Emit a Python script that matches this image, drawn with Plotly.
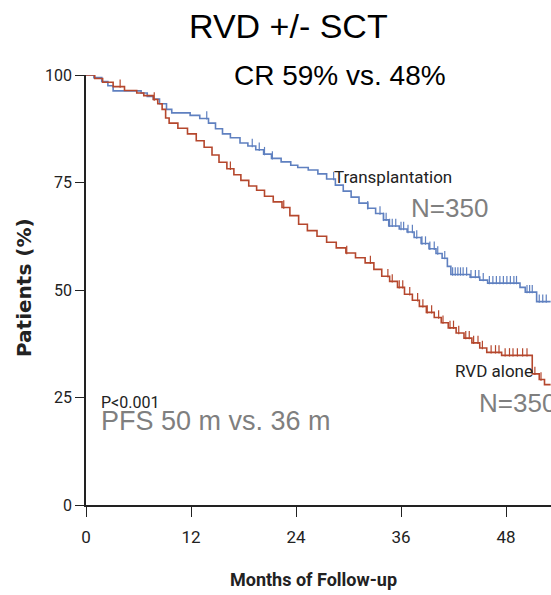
import numpy as np
import plotly.graph_objects as go

# ---------------- data ----------------
tx_months = [0, 0.9, 1.8, 2.5, 3.1, 6.3, 7.0, 7.7, 8.4, 9.2, 9.8, 11.9, 13.0, 14.0, 14.8,
             15.6, 16.5, 17.6, 18.5, 19.4, 20.3, 21.2, 22.3, 23.4, 24.2, 25.4, 26.5, 27.5,
             28.5, 29.4, 30.3, 31.2, 32.2, 33.1, 34.0, 34.6, 35.8, 36.7, 37.5, 38.3, 39.2,
             40.0, 40.7, 41.3, 41.7, 43.9, 45.0, 45.9, 49.6, 50.2, 51.5, 53.1]
tx_surv = [100, 99.4, 98.5, 97.5, 96.3, 95.8, 95.0, 94.4, 93.3, 92.0, 91.2, 90.6, 89.9, 88.8,
           87.5, 86.3, 85.4, 84.2, 83.5, 82.6, 81.6, 80.6, 79.8, 79.0, 78.5, 77.9, 77.0, 75.8,
           74.4, 73.0, 71.6, 70.2, 69.0, 67.8, 66.3, 64.9, 64.2, 63.5, 62.2, 60.8, 59.6, 58.5,
           57.4, 55.5, 53.6, 53.0, 52.3, 51.6, 50.6, 49.5, 47.3, 47.3]
tx_censor = [0.3, 0.5, 0.7, 1.0, 1.3, 1.6, 13.8, 19.0, 19.8, 20.4, 21.3, 28.3, 32.2, 33.6, 34.0,
             34.3, 34.7, 35.0, 35.4, 36.0, 36.3, 36.8, 37.3, 37.8, 38.4, 38.8, 39.3, 39.8, 40.2,
             41.0, 41.9, 42.2, 42.5, 42.8, 43.1, 43.5, 44.0, 44.5, 44.9, 45.4, 46.1, 46.5, 46.9,
             47.3, 47.7, 48.1, 48.5, 48.9, 49.2, 50.4, 50.7, 51.0, 51.8, 52.2, 52.6]

rvd_months = [0, 1.0, 1.9, 3.1, 4.4, 5.8, 6.6, 7.7, 8.2, 8.7, 9.1, 9.5, 10.5, 11.6, 12.6, 13.5,
              14.4, 15.2, 16.1, 16.9, 17.7, 18.6, 19.5, 20.4, 21.4, 22.4, 23.3, 24.3, 25.3, 26.4,
              27.5, 28.6, 29.7, 30.8, 31.9, 32.9, 33.8, 34.7, 35.6, 36.4, 37.3, 38.1, 38.9, 39.8,
              40.6, 41.4, 42.3, 43.2, 44.1, 45.0, 45.8, 47.5, 51.0, 51.8, 52.4, 53.1]
rvd_surv = [100, 99.2, 98.3, 97.3, 96.4, 95.8, 95.2, 94.3, 93.3, 92.0, 90.0, 88.8, 87.6, 86.3,
            84.7, 83.2, 81.4, 79.7, 78.2, 76.8, 75.5, 74.2, 73.2, 71.8, 70.5, 69.2, 67.3, 65.3,
            63.8, 62.5, 61.1, 59.8, 58.6, 57.5, 56.3, 54.8, 53.2, 52.0, 50.6, 49.0, 47.6, 46.2,
            44.8, 43.6, 42.4, 41.2, 40.0, 38.8, 37.7, 36.5, 35.5, 34.8, 30.5, 29.2, 28.0, 28.0]
rvd_censor = [3.9, 7.8, 16.5, 22.6, 29.8, 32.5, 34.5, 35.0, 35.8, 36.2, 37.0, 37.9, 38.5, 39.0,
              39.5, 40.3, 40.8, 41.6, 42.0, 42.6, 43.4, 43.8, 44.3, 44.8, 45.3, 46.3, 46.8, 47.2,
              47.9, 48.4, 48.8, 49.3, 49.9, 50.4, 51.3, 52.0]

x_ticks = [0, 12, 24, 36, 48]
y_ticks = [0, 25, 50, 75, 100]

# ---------------- styling ----------------
W, H = 551, 595
ML, MR, MT, MB = 86, 0, 75, 90
PW, PH = W - ML - MR, H - MT - MB
BLUE = "#5f80c0"
RED = "#b5472d"
GRAY = "#7f7f7f"
NARROW = "Roboto, sans-serif"
ARIAL = "Liberation Sans, Arial, sans-serif"
CENSOR_LIFT = 0.7  # lift so each censor tick rises from the curve


def step_lookup(times, months, surv):
    idx = np.searchsorted(np.array(months), np.array(times), side="right") - 1
    return [surv[i] + CENSOR_LIFT for i in idx]


def px(xp, yp):
    return (xp - ML) / PW, 1 - (yp - MT) / PH


fig = go.Figure()
for months, surv, cens, col, name in [
    (tx_months, tx_surv, tx_censor, BLUE, "Transplantation"),
    (rvd_months, rvd_surv, rvd_censor, RED, "RVD alone"),
]:
    fig.add_trace(go.Scatter(x=months, y=surv, mode="lines", line=dict(color=col, width=1.6, shape="hv"),
                             name=name, showlegend=False, cliponaxis=False))
    fig.add_trace(go.Scatter(x=cens, y=step_lookup(cens, months, surv), mode="markers",
                             marker=dict(symbol="line-ns", size=6, line=dict(color=col, width=1.2)),
                             showlegend=False, cliponaxis=False))

annotations = []


def add_text(text, xp, yp, size, color="black", family=ARIAL, xanchor="left", angle=0):
    x, y = px(xp, yp)
    annotations.append(dict(text=text, x=x, y=y, xref="paper", yref="paper", showarrow=False,
                            xanchor=xanchor, yanchor="middle", textangle=angle,
                            font=dict(size=size, color=color, family=family)))


add_text("RVD +/- SCT", 288, 26, 34, xanchor="center")
add_text("CR 59% vs. 48%", 340, 75, 28, xanchor="center")
add_text("Transplantation", 332, 177, 17, color="#222", family=NARROW)
add_text("N=350", 409, 208, 26, color=GRAY)
add_text("RVD alone", 453, 371, 17, color="#222", family=NARROW)
add_text("N=350", 477, 403, 26, color=GRAY)
add_text("P&lt;0.001", 99, 402, 16, color="#222", family=NARROW)
add_text("PFS 50 m vs. 36 m", 99, 421, 27, color=GRAY)
add_text("<b>Patients (%)</b>", 24, 288, 20, color="#222", family="DejaVu Sans, sans-serif",
         xanchor="center", angle=-90)
add_text("<b>Months of Follow-up</b>", 313, 579, 18, color="#222", family=NARROW, xanchor="center")

fig.update_layout(
    width=W, height=H, margin=dict(l=ML, r=MR, t=MT, b=MB),
    paper_bgcolor="white", plot_bgcolor="white",
    annotations=annotations,
    xaxis=dict(range=[0, PW / 8.75], tickvals=x_ticks, ticks="outside", ticklen=10, tickwidth=1.3,
               tickcolor="#222", showline=True, linecolor="#222", linewidth=1.6, showgrid=False,
               zeroline=False, tickfont=dict(family=NARROW, size=17, color="#222"),
               ticklabelstandoff=6),
    yaxis=dict(range=[0, 100], tickvals=y_ticks, ticks="outside", ticklen=9, tickwidth=1.3,
               tickcolor="#222", showline=True, linecolor="#222", linewidth=1.6, showgrid=False,
               zeroline=False, tickfont=dict(family=NARROW, size=16, color="#222"),
               ticklabelstandoff=0),
)

fig.write_html("out.html")
